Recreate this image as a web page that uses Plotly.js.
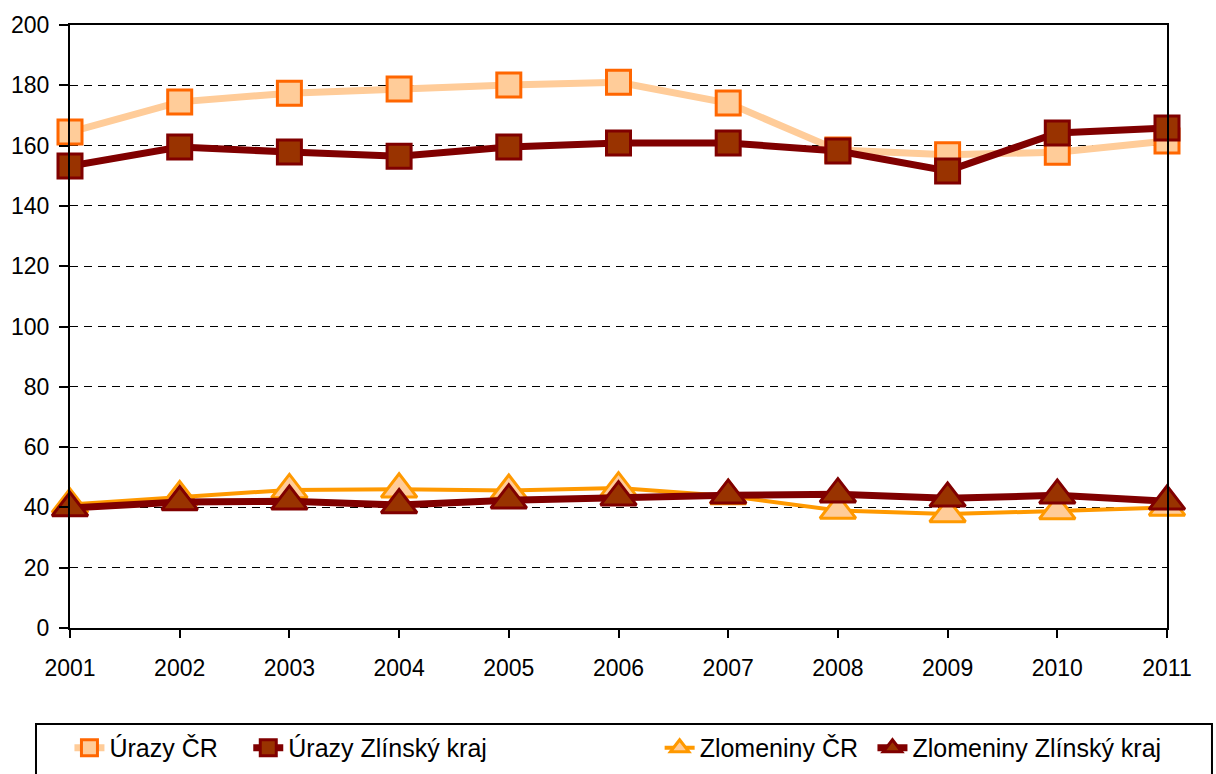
<!DOCTYPE html>
<html>
<head>
<meta charset="utf-8">
<script src="https://cdn.plot.ly/plotly-3.0.1.min.js"></script>
<style>html,body{margin:0;padding:0;background:#fff;}#chart{width:1216px;height:774px;}</style>
</head>
<body>
<div id="chart"></div>
<script>
const years = [2001, 2002, 2003, 2004, 2005, 2006, 2007, 2008, 2009, 2010, 2011];
const urazyCR = [164.5, 174.5, 177.4, 178.8, 180.1, 181.0, 174.1, 158.5, 157.0, 157.8, 161.5];
const urazyZlin = [153.2, 159.5, 157.9, 156.5, 159.5, 160.9, 160.9, 158.2, 151.6, 164.2, 165.8];
const zlomCR = [41.0, 43.5, 45.8, 46.0, 45.6, 46.4, 43.8, 39.0, 37.8, 38.8, 40.0];
const zlomZlin = [39.8, 41.8, 42.0, 40.8, 42.4, 43.4, 44.0, 44.4, 43.0, 44.0, 42.0];
const names = ['Úrazy ČR', 'Úrazy Zlínský kraj', 'Zlomeniny ČR', 'Zlomeniny Zlínský kraj'];

const font = {family: 'Liberation Sans, Arial, sans-serif', size: 23, color: '#000'};
const legFont = {family: 'Liberation Sans, Arial, sans-serif', size: 25, color: '#000'};

const traces = [
  {x: years, y: urazyCR, name: names[0], mode: 'lines+markers', legend: 'legend',
   line: {color: '#FFCC99', width: 7},
   marker: {symbol: 'square', size: 24, color: '#FFCC99', line: {color: '#FF6600', width: 3}}},
  {x: years, y: urazyZlin, name: names[1], mode: 'lines+markers', legend: 'legend2',
   line: {color: '#800000', width: 7},
   marker: {symbol: 'square', size: 24, color: '#993300', line: {color: '#800000', width: 3}}},
  {x: years, y: zlomCR, name: names[2], mode: 'lines+markers', legend: 'legend3',
   line: {color: '#FF9900', width: 4},
   marker: {symbol: 'triangle-up', size: 31, color: '#FFCC99', line: {color: '#FF9900', width: 3}}},
  {x: years, y: zlomZlin, name: names[3], mode: 'lines+markers', legend: 'legend4',
   line: {color: '#800000', width: 7},
   marker: {symbol: 'triangle-up', size: 31, color: '#993300', line: {color: '#800000', width: 3}}}
];
traces.forEach(t => t.cliponaxis = false);

function lg(x) {
  return {x: x, xanchor: 'left', y: -0.199, yanchor: 'middle', orientation: 'h',
          font: legFont, bgcolor: 'rgba(0,0,0,0)', borderwidth: 0};
}

const layout = {
  width: 1216, height: 774,
  margin: {l: 70, r: 49, t: 25, b: 146, autoexpand: false},
  paper_bgcolor: '#fff', plot_bgcolor: '#fff',
  font: font,
  showlegend: true,
  legend: lg(-0.0005), legend2: lg(0.1625), legend3: lg(0.5375), legend4: lg(0.7315),
  xaxis: {
    range: [2001, 2011], tickvals: years, ticktext: years.map(String),
    showgrid: false, zeroline: false,
    showline: true, linecolor: '#000', linewidth: 2, mirror: true,
    ticks: 'outside', ticklen: 8, tickwidth: 2, tickcolor: '#000',
    ticklabelstandoff: 10,
    tickfont: font
  },
  yaxis: {
    range: [0, 200], tickvals: [0, 20, 40, 60, 80, 100, 120, 140, 160, 180, 200],
    showgrid: true, gridcolor: '#000', gridwidth: 1, griddash: '8px,6px',
    zeroline: false,
    showline: true, linecolor: '#000', linewidth: 2, mirror: true,
    ticks: 'outside', ticklen: 9, tickwidth: 2, tickcolor: '#000',
    ticklabelstandoff: 5,
    tickfont: font
  },
  shapes: [{type: 'rect', xref: 'paper', yref: 'paper',
    x0: -0.031, x1: 1.041, y0: -0.159, y1: -0.28,
    line: {color: '#000', width: 2}, fillcolor: 'rgba(0,0,0,0)'}]
};

Plotly.newPlot('chart', traces, layout, {displayModeBar: false, staticPlot: true});
</script>
</body>
</html>
